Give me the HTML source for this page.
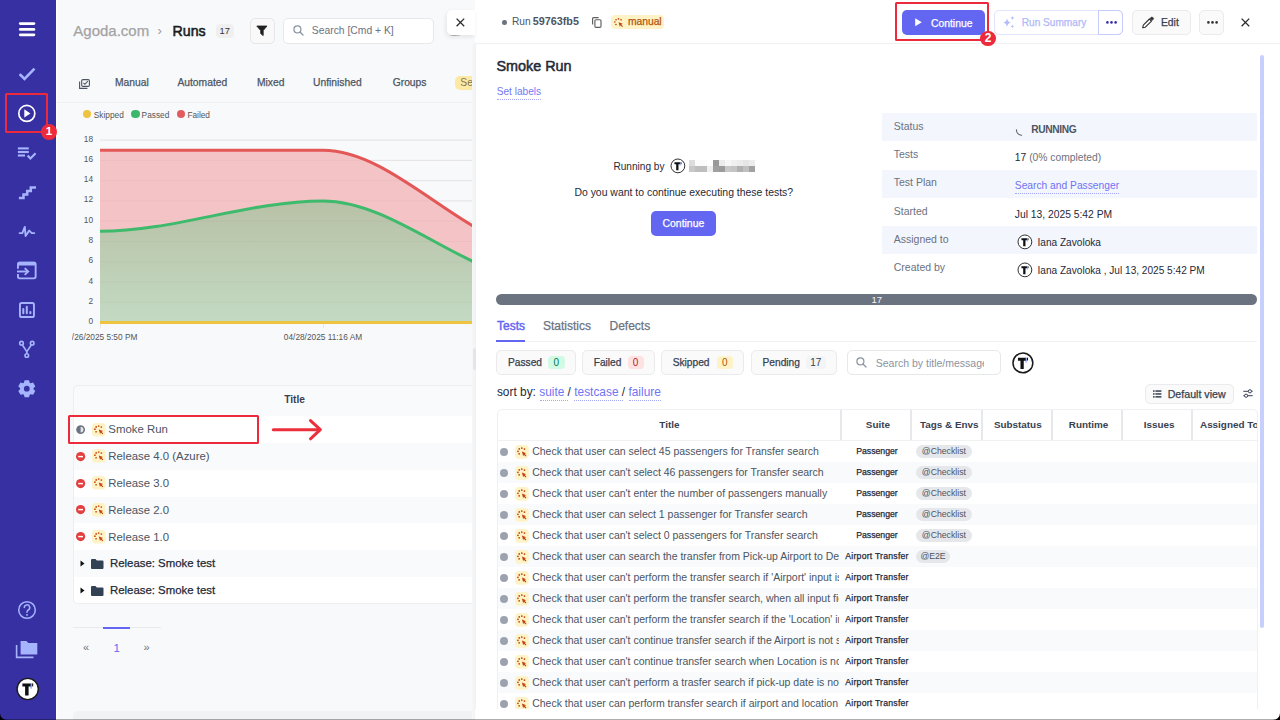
<!DOCTYPE html>
<html><head><meta charset="utf-8">
<style>
*{box-sizing:border-box;margin:0;padding:0}
html,body{width:1280px;height:720px;overflow:hidden}
body{position:relative;background:#f8f9fb;font-family:"Liberation Sans",Arial,sans-serif;color:#374151}
.a{position:absolute}
.t{position:absolute;white-space:nowrap;line-height:1}
svg{display:block}
#sb{position:absolute;left:0;top:0;width:56px;height:720px;background:#3730a3}
.ic{position:absolute;overflow:visible}
.m{-webkit-text-stroke:0.25px currentColor}
.sbd{-webkit-text-stroke:0.45px currentColor}
.mi{position:absolute;width:14px;height:14px;background:#fef3c7;border-radius:4px}
</style></head><body>
<!-- SIDEBAR -->
<div id="sb">
 <svg class="ic" style="left:0;top:0" width="56" height="720" viewBox="0 0 56 720">
  <g stroke="#fff" stroke-width="2.8" stroke-linecap="round">
   <line x1="20.3" y1="23.6" x2="33.9" y2="23.6"/><line x1="20.3" y1="29.4" x2="33.9" y2="29.4"/><line x1="20.3" y1="34.8" x2="33.9" y2="34.8"/>
  </g>
  <polyline points="20.5,75 24.5,79 33.6,69.5" fill="none" stroke="#a5b4fc" stroke-width="2.6" stroke-linecap="square"/>
  <circle cx="26.8" cy="113.4" r="8" fill="none" stroke="#fff" stroke-width="1.7"/>
  <path d="M24.3 109.3 L30.4 113.4 L24.3 117.5Z" fill="#fff"/>
  <g stroke="#a5b4fc" stroke-width="2.1" fill="none">
   <line x1="17.9" y1="148.4" x2="28.8" y2="148.4"/><line x1="17.9" y1="152" x2="28.8" y2="152"/><line x1="17.9" y1="155.5" x2="25" y2="155.5"/>
   <polyline points="27.6,155.6 30.4,158.5 35.6,153.3" stroke-width="2.2"/>
  </g>
  <path d="M18.9 197.9 H23.5 V194.5 H27.2 V191 H30.8 V187.4 H36" fill="none" stroke="#a5b4fc" stroke-width="2.5"/>
  <polyline points="19.6,233.1 22.3,233.1 24.8,226.9 25.6,236 29.2,230.6 31.8,233.1 34.3,233.1" fill="none" stroke="#a5b4fc" stroke-width="1.9" stroke-linejoin="round" stroke-linecap="round"/>
  <g fill="none" stroke="#a5b4fc" stroke-width="1.9">
   <path d="M17.95,268.7 V264.5 Q17.95,262.75 19.7,262.75 H33.9 Q35.65,262.75 35.65,264.5 V276.6 Q35.65,278.35 33.9,278.35 H19.7 Q17.95,278.35 17.95,276.6 V273.9"/>
   <line x1="17" y1="271.5" x2="28.2" y2="271.5"/>
   <polyline points="24.7,268.1 28.2,271.5 24.7,274.9"/>
  </g>
  <rect x="17.5" y="261.8" width="18.6" height="3.6" rx="1.5" fill="#a5b4fc"/>
  <g fill="none" stroke="#a5b4fc" stroke-width="1.9">
   <rect x="19.95" y="302.95" width="14" height="14.1" rx="1.6"/>
  </g>
  <g stroke="#a5b4fc" stroke-width="2" stroke-linecap="round">
   <line x1="23.3" y1="309.1" x2="23.3" y2="313.2"/><line x1="26.8" y1="306.7" x2="26.8" y2="313.2"/><line x1="30.4" y1="312" x2="30.4" y2="313.2"/>
  </g>
  <g fill="none" stroke="#a5b4fc" stroke-width="1.6">
   <circle cx="21.5" cy="343.2" r="1.8"/><circle cx="32.2" cy="343.2" r="1.8"/><circle cx="26.8" cy="355.5" r="1.8"/>
   <polyline points="22.4,345 26.8,351.6 31.3,345"/><line x1="26.8" y1="351.6" x2="26.8" y2="353.7"/>
  </g>
  <path fill="#a5b4fc" fill-rule="evenodd" d="M29.70,382.66 L29.00,380.18 L24.60,380.18 L23.90,382.66 A6.7,6.7 0 0 0 23.02,383.17 L20.52,382.53 L18.32,386.34 L20.12,388.19 A6.7,6.7 0 0 0 20.12,389.21 L18.32,391.06 L20.52,394.87 L23.02,394.23 A6.7,6.7 0 0 0 23.90,394.74 L24.60,397.22 L29.00,397.22 L29.70,394.74 A6.7,6.7 0 0 0 30.58,394.23 L33.08,394.87 L35.28,391.06 L33.48,389.21 A6.7,6.7 0 0 0 33.48,388.19 L35.28,386.34 L33.08,382.53 L30.58,383.17 A6.7,6.7 0 0 0 29.70,382.66 Z M29.70,388.70 A2.9,2.9 0 1 0 23.90,388.70 A2.9,2.9 0 1 0 29.70,388.70Z"/>
  <circle cx="27" cy="610" r="8.3" fill="none" stroke="#a5b4fc" stroke-width="1.5"/>
  <path d="M24.3 607.6 A2.7 2.7 0 1 1 28.2 610 C27.2 610.5 27 611 27 612.3" fill="none" stroke="#a5b4fc" stroke-width="1.5" stroke-linecap="round"/>
  <circle cx="27" cy="614.9" r="0.95" fill="#a5b4fc"/>
  <path d="M16.6 645 V657.4 H33.5" fill="none" stroke="#a5b4fc" stroke-width="1.6"/>
  <path d="M20.6 641 H26.5 L28.3 643 H37.3 V654.4 H20.6Z" fill="#a5b4fc"/>
  <circle cx="27.7" cy="689" r="10.6" fill="#fff" stroke="#1a1a1a" stroke-width="1.4"/>
  <path d="M22.4 683.4 H31.3 V686.6 H28.6 V695.6 H25.1 V686.6 H22.4Z" fill="#111"/>
  <rect x="30.6" y="683.4" width="1" height="5.2" fill="#5b8cff"/>
  <rect x="32.1" y="683.4" width="1.1" height="3" fill="#111"/>
 </svg>
 <div class="a" style="left:4.8px;top:92.8px;width:43.3px;height:39.8px;border:2.4px solid #ec2a3b;border-radius:1.5px"></div>
 
</div>

<!-- MAIN LEFT -->
<div id="main" class="a" style="left:55px;top:0;width:420px;height:720px">
</div>
<div class="t m" style="left:73.3px;top:23.1px;font-size:15px;color:#a3a3a3">Agoda.com</div>
<div class="t" style="left:157.5px;top:24.3px;font-size:13px;color:#9a9a9a">&#8250;</div>
<div class="t" style="left:172.6px;top:23.73px;font-size:14.2px;color:#1c1c1c;-webkit-text-stroke:0.55px #1c1c1c">Runs</div>
<div class="a" style="left:215.5px;top:24px;width:18.5px;height:14px;border-radius:4px;background:#f0f0f1;color:#333;font-size:9.3px;line-height:14px;text-align:center">17</div>
<div class="a" style="left:249.5px;top:18px;width:25px;height:26px;border:1px solid #e6e6e8;border-radius:5px;background:#f9f9f9"></div>
<svg class="ic" style="left:256px;top:25px" width="12" height="12" viewBox="0 0 12 12"><path d="M0.8 1 H11 L7.2 5.6 V10.6 L4.7 8.6 V5.6Z" fill="#1f1f1f" stroke="#1f1f1f" stroke-width="0.8" stroke-linejoin="round"/></svg>
<div class="a" style="left:283.3px;top:18px;width:150.3px;height:26px;border:1px solid #e7e8ea;border-radius:5px;background:#fff"></div>
<svg class="ic" style="left:293px;top:25px" width="11" height="11" viewBox="0 0 11 11"><circle cx="4.4" cy="4.4" r="3.5" fill="none" stroke="#8b93a1" stroke-width="1.2"/><line x1="7" y1="7" x2="10" y2="10" stroke="#8b93a1" stroke-width="1.3" stroke-linecap="round"/></svg>
<div class="t" style="left:311.8px;top:26.2px;font-size:10.35px;color:#6b7280">Search [Cmd + K]</div>
<!-- tabs -->
<svg class="ic" style="left:78.5px;top:78.5px" width="11" height="10" viewBox="0 0 11 10"><g fill="none" stroke="#4b5563" stroke-width="1.1"><rect x="2.7" y="0.6" width="7.7" height="6.8" rx="1.2"/><path d="M0.6 2.6 V9.4 H8.4"/><polyline points="4.4,3.9 5.9,5.3 8.8,2.2"/></g></svg>
<div class="t m" style="left:115px;top:77.7px;font-size:10.3px;color:#4b5563">Manual</div>
<div class="t m" style="left:177.4px;top:77.7px;font-size:10.3px;color:#4b5563">Automated</div>
<div class="t m" style="left:257px;top:77.7px;font-size:10.3px;color:#4b5563">Mixed</div>
<div class="t m" style="left:313px;top:77.7px;font-size:10.3px;color:#4b5563">Unfinished</div>
<div class="t m" style="left:392.7px;top:77.7px;font-size:10.3px;color:#4b5563">Groups</div>
<div class="a" style="left:455px;top:75.8px;width:17.7px;height:14.6px;border-radius:5px 0 0 5px;background:#fde9a6;overflow:hidden"><div class="t" style="left:5.3px;top:2.6px;font-size:10.3px;color:#857549">Se</div></div>
<div class="a" style="left:57.2px;top:102px;width:415px;height:1px;background:#eef0f3"></div>
<!-- legend -->
<div class="a" style="left:82.9px;top:109.6px;width:8.6px;height:8.6px;border-radius:50%;background:#eec33f"></div>
<div class="t" style="left:93.8px;top:111.3px;font-size:8.3px;color:#555">Skipped</div>
<div class="a" style="left:131px;top:109.6px;width:8.6px;height:8.6px;border-radius:50%;background:#3cb86e"></div>
<div class="t" style="left:141.6px;top:111.3px;font-size:8.3px;color:#555">Passed</div>
<div class="a" style="left:176.5px;top:109.6px;width:8.6px;height:8.6px;border-radius:50%;background:#e25b5e"></div>
<div class="t" style="left:187.4px;top:111.3px;font-size:8.3px;color:#555">Failed</div>

<!-- CHART -->
<svg class="ic" style="left:0;top:0" width="475" height="350" viewBox="0 0 475 350">
 <defs>
  <clipPath id="cc"><rect x="72" y="120" width="400.5" height="230"/></clipPath>
  <clipPath id="pc"><rect x="100" y="120" width="372.5" height="210"/></clipPath>
  <linearGradient id="gg" gradientUnits="userSpaceOnUse" x1="0" y1="200" x2="0" y2="323"><stop offset="0" stop-color="#b8c1a6"/><stop offset="1" stop-color="#c3dac3"/></linearGradient>
 </defs>
 <g clip-path="url(#cc)">
  <g stroke="#e9e9eb" stroke-width="1"><line x1="100" y1="302.3" x2="473" y2="302.3"/><line x1="100" y1="282.0" x2="473" y2="282.0"/><line x1="100" y1="261.8" x2="473" y2="261.8"/><line x1="100" y1="241.5" x2="473" y2="241.5"/><line x1="100" y1="221.2" x2="473" y2="221.2"/><line x1="100" y1="200.9" x2="473" y2="200.9"/><line x1="100" y1="180.6" x2="473" y2="180.6"/><line x1="100" y1="160.4" x2="473" y2="160.4"/><line x1="100" y1="140.1" x2="473" y2="140.1"/></g>
  <g clip-path="url(#pc)">
   <path d="M100,150.2 L323,150.2 C397.3,150.2 471.7,251.6 546,251.6 L546,322.6 L100,322.6Z" fill="#f4c3c5"/>
   <path d="M100,231.3 C174.3,231.3 248.7,200.9 323,200.9 C397.3,200.9 471.7,282 546,282 L546,322.6 L100,322.6Z" fill="url(#gg)"/>
   <g stroke="rgba(120,60,60,0.045)" stroke-width="1"><line x1="100" y1="302.3" x2="473" y2="302.3"/><line x1="100" y1="282.0" x2="473" y2="282.0"/><line x1="100" y1="261.8" x2="473" y2="261.8"/><line x1="100" y1="241.5" x2="473" y2="241.5"/><line x1="100" y1="221.2" x2="473" y2="221.2"/><line x1="100" y1="200.9" x2="473" y2="200.9"/><line x1="100" y1="180.6" x2="473" y2="180.6"/><line x1="100" y1="160.4" x2="473" y2="160.4"/><line x1="100" y1="140.1" x2="473" y2="140.1"/></g>
   <path d="M100,150.2 L323,150.2 C397.3,150.2 471.7,251.6 546,251.6" fill="none" stroke="#e35757" stroke-width="3"/>
   <path d="M100,231.3 C174.3,231.3 248.7,200.9 323,200.9 C397.3,200.9 471.7,282 546,282" fill="none" stroke="#3dba6c" stroke-width="3"/>
   <line x1="100" y1="322.6" x2="546" y2="322.6" stroke="#eec33f" stroke-width="3"/>
  </g>
  <g stroke="#e6e6e8"><line x1="100.5" y1="324" x2="100.5" y2="328"/><line x1="323.5" y1="324" x2="323.5" y2="328"/></g>
  <g font-family="Liberation Sans, Arial, sans-serif" font-size="8.3" fill="#555">
   <text x="93" y="324.1" text-anchor="end">0</text><text x="93" y="303.8" text-anchor="end">2</text><text x="93" y="283.5" text-anchor="end">4</text><text x="93" y="263.3" text-anchor="end">6</text><text x="93" y="243.0" text-anchor="end">8</text><text x="93" y="222.7" text-anchor="end">10</text><text x="93" y="202.4" text-anchor="end">12</text><text x="93" y="182.1" text-anchor="end">14</text><text x="93" y="161.9" text-anchor="end">16</text><text x="93" y="141.6" text-anchor="end">18</text>
   <text x="100" y="340.1" text-anchor="middle">04/26/2025 5:50 PM</text>
   <text x="323" y="340.1" text-anchor="middle">04/28/2025 11:16 AM</text>
  </g>
 </g>
</svg>
<!-- LEFT TABLE -->
<div class="a" style="left:56px;top:0;width:1.2px;height:720px;background:#fff"></div>
<div class="a" style="left:72.5px;top:384.5px;width:401px;height:219.5px;border:1px solid #eceef1;border-right:none;border-radius:5px 0 0 5px;background:#f9fafb;overflow:hidden">
<div class="a" style="left:0;top:30.50px;width:400px;height:26.85px;background:#fff"></div>
<div class="a" style="left:0;top:57.35px;width:400px;height:26.85px;background:#f9fafb"></div>
<div class="a" style="left:0;top:84.20px;width:400px;height:26.85px;background:#fff"></div>
<div class="a" style="left:0;top:111.05px;width:400px;height:26.85px;background:#f9fafb"></div>
<div class="a" style="left:0;top:137.90px;width:400px;height:26.85px;background:#fff"></div>
<div class="a" style="left:0;top:164.75px;width:400px;height:26.85px;background:#f9fafb"></div>
<div class="a" style="left:0;top:191.60px;width:400px;height:26.85px;background:#fff"></div>
</div>
<div class="t" style="left:284.2px;top:395.2px;font-size:10.2px;font-weight:700;color:#374151">Title</div>
<svg class="ic" style="left:76px;top:424.82px" width="9.2" height="9.2" viewBox="0 0 10 10"><circle cx="5" cy="5" r="4.8" fill="#6b7280"/><path d="M5 1.9 A3.1 3.1 0 0 1 5 8.1Z" fill="#e5e7eb"/></svg>
<svg class="ic" style="left:91.5px;top:422.53px" width="13.6" height="13.6" viewBox="0 0 14 14"><rect width="14" height="14" rx="4" fill="#fef3c7"/><g fill="#c2410c"><circle cx="4.3" cy="4" r="0.88"/><circle cx="6.9" cy="3.1" r="0.88"/><circle cx="9.6" cy="4.1" r="0.88"/><circle cx="3" cy="6.4" r="0.88"/><circle cx="4.2" cy="9" r="0.88"/><path d="M7 6.6 L11.4 8.3 L9.8 9 L11.6 10.8 L10.8 11.6 L9 9.8 L8.3 11.4Z"/></g></svg>
<div class="t" style="left:108.3px;top:424.12px;font-size:11.4px;color:#4b5563">Smoke Run</div>
<svg class="ic" style="left:76px;top:451.67px" width="9.2" height="9.2" viewBox="0 0 10 10"><circle cx="5" cy="5" r="5" fill="#e53e3e"/><rect x="2.4" y="4.2" width="5.2" height="1.6" fill="#fff"/></svg>
<svg class="ic" style="left:91.5px;top:449.38px" width="13.6" height="13.6" viewBox="0 0 14 14"><rect width="14" height="14" rx="4" fill="#fef3c7"/><g fill="#c2410c"><circle cx="4.3" cy="4" r="0.88"/><circle cx="6.9" cy="3.1" r="0.88"/><circle cx="9.6" cy="4.1" r="0.88"/><circle cx="3" cy="6.4" r="0.88"/><circle cx="4.2" cy="9" r="0.88"/><path d="M7 6.6 L11.4 8.3 L9.8 9 L11.6 10.8 L10.8 11.6 L9 9.8 L8.3 11.4Z"/></g></svg>
<div class="t" style="left:108.3px;top:450.97px;font-size:11.4px;color:#4b5563">Release 4.0 (Azure)</div>
<svg class="ic" style="left:76px;top:478.52px" width="9.2" height="9.2" viewBox="0 0 10 10"><circle cx="5" cy="5" r="5" fill="#e53e3e"/><rect x="2.4" y="4.2" width="5.2" height="1.6" fill="#fff"/></svg>
<svg class="ic" style="left:91.5px;top:476.23px" width="13.6" height="13.6" viewBox="0 0 14 14"><rect width="14" height="14" rx="4" fill="#fef3c7"/><g fill="#c2410c"><circle cx="4.3" cy="4" r="0.88"/><circle cx="6.9" cy="3.1" r="0.88"/><circle cx="9.6" cy="4.1" r="0.88"/><circle cx="3" cy="6.4" r="0.88"/><circle cx="4.2" cy="9" r="0.88"/><path d="M7 6.6 L11.4 8.3 L9.8 9 L11.6 10.8 L10.8 11.6 L9 9.8 L8.3 11.4Z"/></g></svg>
<div class="t" style="left:108.3px;top:477.82px;font-size:11.4px;color:#4b5563">Release 3.0</div>
<svg class="ic" style="left:76px;top:505.38px" width="9.2" height="9.2" viewBox="0 0 10 10"><circle cx="5" cy="5" r="5" fill="#e53e3e"/><rect x="2.4" y="4.2" width="5.2" height="1.6" fill="#fff"/></svg>
<svg class="ic" style="left:91.5px;top:503.08px" width="13.6" height="13.6" viewBox="0 0 14 14"><rect width="14" height="14" rx="4" fill="#fef3c7"/><g fill="#c2410c"><circle cx="4.3" cy="4" r="0.88"/><circle cx="6.9" cy="3.1" r="0.88"/><circle cx="9.6" cy="4.1" r="0.88"/><circle cx="3" cy="6.4" r="0.88"/><circle cx="4.2" cy="9" r="0.88"/><path d="M7 6.6 L11.4 8.3 L9.8 9 L11.6 10.8 L10.8 11.6 L9 9.8 L8.3 11.4Z"/></g></svg>
<div class="t" style="left:108.3px;top:504.68px;font-size:11.4px;color:#4b5563">Release 2.0</div>
<svg class="ic" style="left:76px;top:532.23px" width="9.2" height="9.2" viewBox="0 0 10 10"><circle cx="5" cy="5" r="5" fill="#e53e3e"/><rect x="2.4" y="4.2" width="5.2" height="1.6" fill="#fff"/></svg>
<svg class="ic" style="left:91.5px;top:529.93px" width="13.6" height="13.6" viewBox="0 0 14 14"><rect width="14" height="14" rx="4" fill="#fef3c7"/><g fill="#c2410c"><circle cx="4.3" cy="4" r="0.88"/><circle cx="6.9" cy="3.1" r="0.88"/><circle cx="9.6" cy="4.1" r="0.88"/><circle cx="3" cy="6.4" r="0.88"/><circle cx="4.2" cy="9" r="0.88"/><path d="M7 6.6 L11.4 8.3 L9.8 9 L11.6 10.8 L10.8 11.6 L9 9.8 L8.3 11.4Z"/></g></svg>
<div class="t" style="left:108.3px;top:531.53px;font-size:11.4px;color:#4b5563">Release 1.0</div>
<svg class="ic" style="left:79.5px;top:560.17px" width="5" height="7" viewBox="0 0 5 7"><path d="M0.5 0.5 L4.5 3.5 L0.5 6.5Z" fill="#111"/></svg>
<svg class="ic" style="left:90.5px;top:558.67px" width="12.5" height="10" viewBox="0 0 12.5 10"><path d="M0 1 Q0 0 1 0 H4.5 L5.8 1.4 H11.5 Q12.5 1.4 12.5 2.4 V9 Q12.5 10 11.5 10 H1 Q0 10 0 9Z" fill="#334155"/></svg>
<div class="t m" style="left:110px;top:558.38px;font-size:11.4px;color:#1f2937">Release: Smoke test</div>
<svg class="ic" style="left:79.5px;top:587.03px" width="5" height="7" viewBox="0 0 5 7"><path d="M0.5 0.5 L4.5 3.5 L0.5 6.5Z" fill="#111"/></svg>
<svg class="ic" style="left:90.5px;top:585.53px" width="12.5" height="10" viewBox="0 0 12.5 10"><path d="M0 1 Q0 0 1 0 H4.5 L5.8 1.4 H11.5 Q12.5 1.4 12.5 2.4 V9 Q12.5 10 11.5 10 H1 Q0 10 0 9Z" fill="#334155"/></svg>
<div class="t m" style="left:110px;top:585.23px;font-size:11.4px;color:#1f2937">Release: Smoke test</div>
<div class="a" style="left:68.3px;top:414.5px;width:191px;height:29.8px;border:2.4px solid #ec2a3b;border-radius:1.5px"></div>
<svg class="ic" style="left:270px;top:418px" width="56" height="24" viewBox="270 418 56 24"><g fill="none" stroke="#ec2f3c" stroke-width="3" stroke-linecap="round" stroke-linejoin="round"><line x1="273.3" y1="429.7" x2="319.5" y2="429.7"/><polyline points="310.5,420.6 320.3,429.7 310.5,438.8"/></g></svg>
<div class="a" style="left:73px;top:627.2px;width:88px;height:1px;background:#e9eaee"></div>
<div class="a" style="left:103.2px;top:627px;width:27px;height:2px;background:#6366f1"></div>
<div class="t" style="left:83px;top:642.3px;font-size:11px;color:#6b7280">&#171;</div>
<div class="t" style="left:113.6px;top:641.6px;font-size:11.6px;color:#6366f1">1</div>
<div class="t" style="left:143.6px;top:642.3px;font-size:11px;color:#6b7280">&#187;</div>
<div class="a" style="left:72.5px;top:711px;width:401px;height:10px;border-radius:5px 0 0 0;background:#f1f2f4"></div>
<!-- DRAWER -->

<div class="a" style="left:474.8px;top:0;width:805.2px;height:720px;background:#fff"></div>
<div class="a" style="left:472.4px;top:44px;width:3.6px;height:676px;background:linear-gradient(90deg,#f6f7f9,#f3f4f6 60%,#eff0f2)"></div>
<div class="a" style="left:447.3px;top:10px;width:27.5px;height:25px;background:#fff;border-radius:5px 0 0 5px;box-shadow:-1px 2px 5px rgba(0,0,0,0.09)"></div>
<svg class="ic" style="left:455.5px;top:17.6px" width="9" height="9" viewBox="0 0 9 9"><path d="M0.6 0.6 L8.2 8.2 M8.2 0.6 L0.6 8.2" stroke="#2b2b2b" stroke-width="1.3"/></svg>
<div class="a" style="left:475px;top:43px;width:805px;height:1px;background:#f0f1f3"></div>
<div class="a" style="left:449.5px;top:35px;width:10px;height:1.3px;background:linear-gradient(90deg,#bbb,#777 40%,#bbb);opacity:0.6"></div>
<div class="a" style="left:502.3px;top:20.2px;width:4.6px;height:4.6px;border-radius:50%;background:#6b7280"></div>
<div class="t" style="left:511.9px;top:16.67px;font-size:10.2px;color:#4b5563;">Run</div>
<div class="t" style="left:532.7px;top:16.16px;font-size:10.8px;color:#4b5563;font-weight:700">59763fb5</div>
<svg class="ic" style="left:591.5px;top:16.8px" width="10.5" height="11" viewBox="0 0 10.5 11"><g fill="none" stroke="#5f5f5f" stroke-width="1.15"><rect x="2.9" y="2.7" width="6.1" height="7.7" rx="1.1"/><path d="M0.6 7.4 V1.6 Q0.6 0.6 1.6 0.6 H6.6"/></g></svg>
<div class="a" style="left:611px;top:15.3px;width:53.2px;height:13.8px;border-radius:4px;background:#fef3c7"></div>
<svg class="ic" style="left:612.2px;top:15.6px" width="13.2" height="13.2" viewBox="0 0 14 14"><g fill="#c2410c"><circle cx="4.3" cy="4" r="0.88"/><circle cx="6.9" cy="3.1" r="0.88"/><circle cx="9.6" cy="4.1" r="0.88"/><circle cx="3" cy="6.4" r="0.88"/><circle cx="4.2" cy="9" r="0.88"/><path d="M7 6.6 L11.4 8.3 L9.8 9 L11.6 10.8 L10.8 11.6 L9 9.8 L8.3 11.4Z"/></g></svg>
<div class="t m" style="left:627.9px;top:17.18px;font-size:10.3px;color:#b45309;">manual</div>
<div class="a" style="left:895.3px;top:2.3px;width:94.2px;height:38.6px;border:2.4px solid #ec2a3b;border-radius:1.5px"></div>
<div class="a" style="left:902.2px;top:9.75px;width:82.5px;height:25.5px;border-radius:5px;background:#6366f1"></div>
<svg class="ic" style="left:915.2px;top:18.2px" width="7" height="8.4" viewBox="0 0 7 8.4"><path d="M0.2 0.2 L6.8 4.2 L0.2 8.2Z" fill="#fff"/></svg>
<div class="t m" style="left:930.9px;top:18.80px;font-size:10.4px;color:#fff;">Continue</div>
<div class="a" style="left:980.3px;top:30.6px;width:15.8px;height:15.8px;border-radius:50%;background:#ec2a3b;color:#fff;font-weight:700;font-size:12px;line-height:14.6px;text-align:center">2</div>
<div class="a" style="left:993.7px;top:9.75px;width:129.7px;height:25.5px;border-radius:5px;border:1px solid #e0e4fc;background:#fff"></div>
<div class="a" style="left:1098px;top:9.75px;width:25.4px;height:25.5px;border:1px solid #c5cbfb;border-radius:0 5px 5px 0"></div>
<svg class="ic" style="left:1002px;top:15.5px" width="13" height="12.5" viewBox="0 0 13 12.5"><g fill="#b4bdfa"><path d="M5 2.2 Q5.6 6 9 6.6 Q5.6 7.2 5 11 Q4.4 7.2 1 6.6 Q4.4 6 5 2.2Z"/><path d="M10.4 0 Q10.7 1.6 12.2 1.9 Q10.7 2.2 10.4 3.8 Q10.1 2.2 8.6 1.9 Q10.1 1.6 10.4 0Z"/><path d="M10.4 8.8 Q10.7 10.1 12 10.4 Q10.7 10.7 10.4 12 Q10.1 10.7 8.8 10.4 Q10.1 10.1 10.4 8.8Z"/></g></svg>
<div class="t m" style="left:1021.8px;top:18.25px;font-size:10.1px;color:#b0b8f8;">Run Summary</div>
<svg class="ic" style="left:1105.5px;top:20.8px" width="11" height="3" viewBox="0 0 11 3"><g fill="#3730a3"><circle cx="1.4" cy="1.4" r="1.3"/><circle cx="5.5" cy="1.4" r="1.3"/><circle cx="9.6" cy="1.4" r="1.3"/></g></svg>
<div class="a" style="left:1132.2px;top:10px;width:58.4px;height:25px;border-radius:5px;border:1px solid #ebebed;background:#fafafa"></div>
<svg class="ic" style="left:1142.2px;top:16.5px" width="11.6" height="11.6" viewBox="0 0 11.6 11.6"><path d="M0.70 10.80 L3.35 10.20 L9.50 4.05 L7.45 2.00 L1.30 8.15Z" fill="none" stroke="#333" stroke-width="1.15" stroke-linejoin="round"/><path d="M9.93 3.62 L11.57 1.98 L11.57 1.27 L10.23 -0.07 L9.52 -0.07 L7.88 1.57Z" fill="#333" stroke="#333" stroke-width="0.6" stroke-linejoin="round"/></svg>
<div class="t m" style="left:1161px;top:18.08px;font-size:10.3px;color:#374151;">Edit</div>
<div class="a" style="left:1199px;top:10px;width:24.8px;height:25px;border-radius:5px;border:1px solid #ebebed;background:#fafafa"></div>
<svg class="ic" style="left:1206.5px;top:20.8px" width="11" height="3" viewBox="0 0 11 3"><g fill="#333"><circle cx="1.4" cy="1.4" r="1.3"/><circle cx="5.5" cy="1.4" r="1.3"/><circle cx="9.6" cy="1.4" r="1.3"/></g></svg>
<svg class="ic" style="left:1240.7px;top:17.8px" width="9" height="9" viewBox="0 0 9 9"><path d="M0.6 0.6 L8.2 8.2 M8.2 0.6 L0.6 8.2" stroke="#2b2b2b" stroke-width="1.3"/></svg>
<div class="t" style="left:496.4px;top:58.71px;font-size:14.4px;color:#1f2937;-webkit-text-stroke:0.5px #1f2937">Smoke Run</div>
<div class="t" style="left:496.75px;top:87.45px;font-size:10.1px;color:#7477f4;">Set labels</div>
<div class="a" style="left:496.75px;top:98.7px;width:44.5px;height:0;border-top:1px dotted #a5a8f7"></div>
<div class="a" style="left:1260px;top:55px;width:4px;height:573px;border-radius:2px;background:#c7d0fd"></div>
<div class="t" style="left:613.4px;top:161.55px;font-size:10.1px;color:#1f2937;">Running by</div>
<svg class="ic" style="left:669.50px;top:158.40px" width="15.80" height="15.80" viewBox="-7.90 -7.90 15.80 15.80"><circle r="6.9" fill="#fff" stroke="#1a1a1a" stroke-width="0.9"/><g transform="scale(0.651)"><path d="M-5.3 -5.6 H3.6 V-2.4 H0.9 V6.6 H-2.6 V-2.4 H-5.3Z" fill="#111"/><rect x="2.9" y="-5.6" width="1" height="5.2" fill="#5b8cff"/><rect x="4.4" y="-5.6" width="1.1" height="3" fill="#111"/></g></svg>
<div class="a" style="left:689px;top:160px;width:6px;height:6px;background:#dcdcdc"></div>
<div class="a" style="left:695px;top:160px;width:6px;height:6px;background:#fbfbfb"></div>
<div class="a" style="left:701px;top:160px;width:6px;height:6px;background:#fbfbfb"></div>
<div class="a" style="left:707px;top:160px;width:6px;height:6px;background:#fff"></div>
<div class="a" style="left:713px;top:160px;width:6px;height:6px;background:#9a9a9a"></div>
<div class="a" style="left:719px;top:160px;width:6px;height:6px;background:#ececec"></div>
<div class="a" style="left:725px;top:160px;width:6px;height:6px;background:#f7f7f7"></div>
<div class="a" style="left:731px;top:160px;width:6px;height:6px;background:#f0f0f0"></div>
<div class="a" style="left:737px;top:160px;width:6px;height:6px;background:#ececec"></div>
<div class="a" style="left:743px;top:160px;width:6px;height:6px;background:#e6e6e6"></div>
<div class="a" style="left:749px;top:160px;width:6px;height:6px;background:#ececec"></div>
<div class="a" style="left:689px;top:166px;width:6px;height:6px;background:#c8c8c8"></div>
<div class="a" style="left:695px;top:166px;width:6px;height:6px;background:#bebebe"></div>
<div class="a" style="left:701px;top:166px;width:6px;height:6px;background:#bebebe"></div>
<div class="a" style="left:707px;top:166px;width:6px;height:6px;background:#efefef"></div>
<div class="a" style="left:713px;top:166px;width:6px;height:6px;background:#a0a0a0"></div>
<div class="a" style="left:719px;top:166px;width:6px;height:6px;background:#9c9c9c"></div>
<div class="a" style="left:725px;top:166px;width:6px;height:6px;background:#c8c8c8"></div>
<div class="a" style="left:731px;top:166px;width:6px;height:6px;background:#c4c4c4"></div>
<div class="a" style="left:737px;top:166px;width:6px;height:6px;background:#b0b0b0"></div>
<div class="a" style="left:743px;top:166px;width:6px;height:6px;background:#c0c0c0"></div>
<div class="a" style="left:749px;top:166px;width:6px;height:6px;background:#a2a2a2"></div>
<div class="t" style="left:574.4px;top:187.96px;font-size:10.44px;color:#1f2937;">Do you want to continue executing these tests?</div>
<div class="a" style="left:650.9px;top:211.3px;width:65.4px;height:25px;border-radius:5px;background:#6366f1"></div>
<div class="t m" style="left:662.5px;top:218.75px;font-size:10.45px;color:#fff;">Continue</div>
<div class="a" style="left:472.7px;top:348px;width:3.1px;height:22px;border-radius:1.5px;background:#e4e5e9"></div>
<!-- DETAILS -->
<div class="a" style="left:882px;top:113.10px;width:375.4px;height:28.22px;background:#f4f6fd"></div>
<div class="t" style="left:893.75px;top:120.91px;font-size:10.5px;color:#6b7280;">Status</div>
<div class="t" style="left:893.75px;top:149.13px;font-size:10.5px;color:#6b7280;">Tests</div>
<div class="a" style="left:882px;top:169.54px;width:375.4px;height:28.22px;background:#f4f6fd"></div>
<div class="t" style="left:893.75px;top:177.35px;font-size:10.5px;color:#6b7280;">Test Plan</div>
<div class="t" style="left:893.75px;top:205.57px;font-size:10.5px;color:#6b7280;">Started</div>
<div class="a" style="left:882px;top:225.98px;width:375.4px;height:28.22px;background:#f4f6fd"></div>
<div class="t" style="left:893.75px;top:233.79px;font-size:10.5px;color:#6b7280;">Assigned to</div>
<div class="t" style="left:893.75px;top:262.01px;font-size:10.5px;color:#6b7280;">Created by</div>
<svg class="ic" style="left:1014.5px;top:127.5px" width="9" height="9" viewBox="0 0 9 9"><path d="M1.4 1.8 A5.5 5.5 0 0 0 6.6 7.2" fill="none" stroke="#5b6472" stroke-width="1.15" stroke-linecap="round"/></svg>
<div class="t" style="left:1031.2px;top:124.93px;font-size:10.2px;color:#4b5563;font-weight:700;letter-spacing:-0.35px">RUNNING</div>
<div class="t" style="left:1014.8px;top:153.10px;font-size:10.3px;color:#6b7280;"><span style="color:#1f2937">17</span> (0% completed)</div>
<div class="t" style="left:1014.8px;top:181.35px;font-size:10.26px;color:#6f73f3;">Search and Passenger</div>
<div class="a" style="left:1014.8px;top:193.44px;width:104.4px;height:0;border-top:1px dotted #a5a8f7"></div>
<div class="t" style="left:1014.8px;top:209.54px;font-size:10.3px;color:#1f2937;">Jul 13, 2025 5:42 PM</div>
<svg class="ic" style="left:1016.90px;top:234.10px" width="15.80" height="15.80" viewBox="-7.90 -7.90 15.80 15.80"><circle r="6.9" fill="#fff" stroke="#1a1a1a" stroke-width="0.9"/><g transform="scale(0.651)"><path d="M-5.3 -5.6 H3.6 V-2.4 H0.9 V6.6 H-2.6 V-2.4 H-5.3Z" fill="#111"/><rect x="2.9" y="-5.6" width="1" height="5.2" fill="#5b8cff"/><rect x="4.4" y="-5.6" width="1.1" height="3" fill="#111"/></g></svg>
<div class="t" style="left:1037.5px;top:237.93px;font-size:10.1px;color:#1f2937;">Iana Zavoloka</div>
<svg class="ic" style="left:1016.90px;top:262.30px" width="15.80" height="15.80" viewBox="-7.90 -7.90 15.80 15.80"><circle r="6.9" fill="#fff" stroke="#1a1a1a" stroke-width="0.9"/><g transform="scale(0.651)"><path d="M-5.3 -5.6 H3.6 V-2.4 H0.9 V6.6 H-2.6 V-2.4 H-5.3Z" fill="#111"/><rect x="2.9" y="-5.6" width="1" height="5.2" fill="#5b8cff"/><rect x="4.4" y="-5.6" width="1.1" height="3" fill="#111"/></g></svg>
<div class="t" style="left:1037.5px;top:266.15px;font-size:10.1px;color:#1f2937;">Iana Zavoloka , Jul 13, 2025 5:42 PM</div>
<div class="a" style="left:496.3px;top:293.8px;width:761px;height:11px;border-radius:5.5px;background:#6b7280"></div>
<div class="a" style="left:496.3px;top:293.8px;width:761px;height:11px;line-height:11px;font-size:9.6px;color:#f3f4f6;text-align:center">17</div>
<div class="t sbd" style="left:497px;top:320.34px;font-size:12px;color:#6366f1;">Tests</div>
<div class="t m" style="left:542.9px;top:320.34px;font-size:12px;color:#6b7280;">Statistics</div>
<div class="t m" style="left:609.5px;top:320.34px;font-size:12px;color:#6b7280;">Defects</div>
<div class="a" style="left:496px;top:340.5px;width:761px;height:1px;background:#f0f1f3"></div>
<div class="a" style="left:496px;top:339.5px;width:29px;height:2px;background:#6366f1"></div>
<div class="a" style="left:496.2px;top:349.8px;width:79.4px;height:25.2px;border-radius:5px;border:1px solid #ebebed;background:#fafafa"></div>
<div class="t m" style="left:508px;top:357.57px;font-size:10.2px;color:#374151;">Passed</div>
<div class="a" style="left:548.2px;top:356px;width:16.4px;height:13.2px;border-radius:4px;background:#d1fae5;color:#047857;font-size:10px;line-height:13.4px;text-align:center">0</div>
<div class="a" style="left:582.2px;top:349.8px;width:73.2px;height:25.2px;border-radius:5px;border:1px solid #ebebed;background:#fafafa"></div>
<div class="t m" style="left:593.7px;top:357.57px;font-size:10.2px;color:#374151;">Failed</div>
<div class="a" style="left:627.5px;top:356px;width:16.2px;height:13.2px;border-radius:4px;background:#fee2e2;color:#b91c1c;font-size:10px;line-height:13.4px;text-align:center">0</div>
<div class="a" style="left:661.2px;top:349.8px;width:83.2px;height:25.2px;border-radius:5px;border:1px solid #ebebed;background:#fafafa"></div>
<div class="t m" style="left:672.7px;top:357.57px;font-size:10.2px;color:#374151;">Skipped</div>
<div class="a" style="left:716.9px;top:356px;width:16.0px;height:13.2px;border-radius:4px;background:#fef3c7;color:#b45309;font-size:10px;line-height:13.4px;text-align:center">0</div>
<div class="a" style="left:750.7px;top:349.8px;width:86.7px;height:25.2px;border-radius:5px;border:1px solid #ebebed;background:#fafafa"></div>
<div class="t m" style="left:762.5px;top:357.57px;font-size:10.2px;color:#374151;">Pending</div>
<div class="a" style="left:806px;top:356px;width:19.6px;height:13.2px;border-radius:4px;background:#f3f4f6;color:#374151;font-size:10px;line-height:13.4px;text-align:center">17</div>
<div class="a" style="left:846.6px;top:349.5px;width:154px;height:25.8px;border-radius:5px;border:1px solid #e7e8ea;background:#fff;overflow:hidden"><div class="t" style="left:28.2px;top:7.5px;font-size:10.5px;color:#8b93a1;width:108px;overflow:hidden">Search by title/message</div></div>
<svg class="ic" style="left:856px;top:357.3px" width="11" height="11" viewBox="0 0 11 11"><circle cx="4.4" cy="4.4" r="3.5" fill="none" stroke="#8b93a1" stroke-width="1.2"/><line x1="7" y1="7" x2="10" y2="10" stroke="#8b93a1" stroke-width="1.3" stroke-linecap="round"/></svg>
<svg class="ic" style="left:1011.90px;top:351.60px" width="21.80" height="21.80" viewBox="-10.90 -10.90 21.80 21.80"><circle r="9.9" fill="#fff" stroke="#1a1a1a" stroke-width="1.5"/><g transform="scale(0.934)"><path d="M-5.3 -5.6 H3.6 V-2.4 H0.9 V6.6 H-2.6 V-2.4 H-5.3Z" fill="#111"/><rect x="2.9" y="-5.6" width="1" height="5.2" fill="#5b8cff"/><rect x="4.4" y="-5.6" width="1.1" height="3" fill="#111"/></g></svg>
<div class="t" style="left:496.9px;top:387.03px;font-size:11.9px;color:#1f2937;">sort by: <span style="color:#7174f4">suite</span> / <span style="color:#7174f4">testcase</span> / <span style="color:#7174f4">failure</span></div>
<div class="a" id="u1" style="left:539.6px;top:399.6px;width:28.6px;height:0;border-top:1px dotted #a5a8f7"></div>
<div class="a" id="u2" style="left:574.4px;top:399.6px;width:48.8px;height:0;border-top:1px dotted #a5a8f7"></div>
<div class="a" id="u3" style="left:629.4px;top:399.6px;width:32px;height:0;border-top:1px dotted #a5a8f7"></div>
<div class="a" style="left:1144.8px;top:384.3px;width:89.7px;height:19.4px;border-radius:5px;border:1px solid #ebebed;background:#fafafa"></div>
<svg class="ic" style="left:1152.8px;top:389.8px" width="8.5" height="8" viewBox="0 0 8.5 8"><g fill="#374151"><rect x="0" y="0.3" width="1.6" height="1.5"/><rect x="2.4" y="0.3" width="6" height="1.5"/><rect x="0" y="3.2" width="1.6" height="1.5"/><rect x="2.4" y="3.2" width="6" height="1.5"/><rect x="0" y="6.1" width="1.6" height="1.5"/><rect x="2.4" y="6.1" width="6" height="1.5"/></g></svg>
<div class="t m" style="left:1167.7px;top:388.58px;font-size:10.65px;color:#374151;">Default view</div>
<svg class="ic" style="left:1242.5px;top:389px" width="10" height="9" viewBox="0 0 10 9"><g fill="none" stroke="#374151" stroke-width="1"><line x1="0.3" y1="2.3" x2="9.7" y2="2.3"/><line x1="0.3" y1="6.7" x2="9.7" y2="6.7"/><circle cx="6.9" cy="2.3" r="1.6" fill="#fff"/><circle cx="3.1" cy="6.7" r="1.6" fill="#fff"/></g></svg>
<!-- TESTS TABLE -->
<div class="a" style="left:496.8px;top:409.3px;width:761px;height:320px;border:1px solid #eff0f2;border-radius:5px;background:#fff;overflow:hidden">
<div class="a" style="left:0;top:51.7px;width:760px;height:21px;background:#f9fafb"></div>
<div class="a" style="left:0;top:93.7px;width:760px;height:21px;background:#f9fafb"></div>
<div class="a" style="left:0;top:135.7px;width:760px;height:21px;background:#f9fafb"></div>
<div class="a" style="left:0;top:177.7px;width:760px;height:21px;background:#f9fafb"></div>
<div class="a" style="left:0;top:219.7px;width:760px;height:21px;background:#f9fafb"></div>
<div class="a" style="left:0;top:261.7px;width:760px;height:21px;background:#f9fafb"></div>
<div class="a" style="left:0;top:30.0px;width:760px;height:1px;background:#f0f1f3"></div>
</div>
<div class="a" style="left:840.2px;top:410px;width:2px;height:30.3px;background:#e6e8ec"></div>
<div class="a" style="left:910.4px;top:410px;width:2px;height:30.3px;background:#e6e8ec"></div>
<div class="a" style="left:980.6px;top:410px;width:2px;height:30.3px;background:#e6e8ec"></div>
<div class="a" style="left:1050.8px;top:410px;width:2px;height:30.3px;background:#e6e8ec"></div>
<div class="a" style="left:1121.2px;top:410px;width:2px;height:30.3px;background:#e6e8ec"></div>
<div class="a" style="left:1191.4px;top:410px;width:2px;height:30.3px;background:#e6e8ec"></div>
<div class="t" style="left:659.3px;top:420.42px;font-size:9.9px;color:#374151;font-weight:700">Title</div>
<div class="t" style="left:865.8px;top:420.42px;font-size:9.9px;color:#374151;font-weight:700">Suite</div>
<div class="t" style="left:920px;top:420.42px;font-size:9.9px;color:#374151;font-weight:700">Tags &amp; Envs</div>
<div class="t" style="left:993.9px;top:420.42px;font-size:9.9px;color:#374151;font-weight:700">Substatus</div>
<div class="t" style="left:1068.8px;top:420.42px;font-size:9.9px;color:#374151;font-weight:700">Runtime</div>
<div class="t" style="left:1143.7px;top:420.42px;font-size:9.9px;color:#374151;font-weight:700">Issues</div>
<div class="t" style="left:1200px;top:420.42px;font-size:9.9px;color:#374151;font-weight:700;width:56.5px;overflow:hidden">Assigned To</div>
<div class="a" style="left:500.4px;top:447.5px;width:8px;height:8px;border-radius:50%;background:#9ca3af"></div>
<svg class="ic" style="left:514.8px;top:444.6px" width="13.8" height="13.8" viewBox="0 0 14 14"><rect width="14" height="14" rx="4" fill="#fef3c7"/><g fill="#c2410c"><circle cx="4.3" cy="4" r="0.88"/><circle cx="6.9" cy="3.1" r="0.88"/><circle cx="9.6" cy="4.1" r="0.88"/><circle cx="3" cy="6.4" r="0.88"/><circle cx="4.2" cy="9" r="0.88"/><path d="M7 6.6 L11.4 8.3 L9.8 9 L11.6 10.8 L10.8 11.6 L9 9.8 L8.3 11.4Z"/></g></svg>
<div class="t" style="left:532.2px;top:446.31px;font-size:10.5px;color:#4b5563;width:307.3px;overflow:hidden">Check that user can select 45 passengers for Transfer search</div>
<div class="t m" style="left:842px;width:70px;text-align:center;top:447.24px;font-size:8.7px;color:#1f2937">Passenger</div>
<div class="a" style="left:916px;top:444.7px;width:55.8px;height:13.6px;border-radius:7px;background:#e5e7eb;color:#4b5563;font-size:8.7px;line-height:13.6px;text-align:center">@Checklist</div>
<div class="a" style="left:500.4px;top:468.5px;width:8px;height:8px;border-radius:50%;background:#9ca3af"></div>
<svg class="ic" style="left:514.8px;top:465.6px" width="13.8" height="13.8" viewBox="0 0 14 14"><rect width="14" height="14" rx="4" fill="#fef3c7"/><g fill="#c2410c"><circle cx="4.3" cy="4" r="0.88"/><circle cx="6.9" cy="3.1" r="0.88"/><circle cx="9.6" cy="4.1" r="0.88"/><circle cx="3" cy="6.4" r="0.88"/><circle cx="4.2" cy="9" r="0.88"/><path d="M7 6.6 L11.4 8.3 L9.8 9 L11.6 10.8 L10.8 11.6 L9 9.8 L8.3 11.4Z"/></g></svg>
<div class="t" style="left:532.2px;top:467.31px;font-size:10.5px;color:#4b5563;width:307.3px;overflow:hidden">Check that user can&#39;t select 46 passengers for Transfer search</div>
<div class="t m" style="left:842px;width:70px;text-align:center;top:468.24px;font-size:8.7px;color:#1f2937">Passenger</div>
<div class="a" style="left:916px;top:465.7px;width:55.8px;height:13.6px;border-radius:7px;background:#e5e7eb;color:#4b5563;font-size:8.7px;line-height:13.6px;text-align:center">@Checklist</div>
<div class="a" style="left:500.4px;top:489.5px;width:8px;height:8px;border-radius:50%;background:#9ca3af"></div>
<svg class="ic" style="left:514.8px;top:486.6px" width="13.8" height="13.8" viewBox="0 0 14 14"><rect width="14" height="14" rx="4" fill="#fef3c7"/><g fill="#c2410c"><circle cx="4.3" cy="4" r="0.88"/><circle cx="6.9" cy="3.1" r="0.88"/><circle cx="9.6" cy="4.1" r="0.88"/><circle cx="3" cy="6.4" r="0.88"/><circle cx="4.2" cy="9" r="0.88"/><path d="M7 6.6 L11.4 8.3 L9.8 9 L11.6 10.8 L10.8 11.6 L9 9.8 L8.3 11.4Z"/></g></svg>
<div class="t" style="left:532.2px;top:488.31px;font-size:10.5px;color:#4b5563;width:307.3px;overflow:hidden">Check that user can&#39;t enter the number of passengers manually</div>
<div class="t m" style="left:842px;width:70px;text-align:center;top:489.24px;font-size:8.7px;color:#1f2937">Passenger</div>
<div class="a" style="left:916px;top:486.7px;width:55.8px;height:13.6px;border-radius:7px;background:#e5e7eb;color:#4b5563;font-size:8.7px;line-height:13.6px;text-align:center">@Checklist</div>
<div class="a" style="left:500.4px;top:510.5px;width:8px;height:8px;border-radius:50%;background:#9ca3af"></div>
<svg class="ic" style="left:514.8px;top:507.6px" width="13.8" height="13.8" viewBox="0 0 14 14"><rect width="14" height="14" rx="4" fill="#fef3c7"/><g fill="#c2410c"><circle cx="4.3" cy="4" r="0.88"/><circle cx="6.9" cy="3.1" r="0.88"/><circle cx="9.6" cy="4.1" r="0.88"/><circle cx="3" cy="6.4" r="0.88"/><circle cx="4.2" cy="9" r="0.88"/><path d="M7 6.6 L11.4 8.3 L9.8 9 L11.6 10.8 L10.8 11.6 L9 9.8 L8.3 11.4Z"/></g></svg>
<div class="t" style="left:532.2px;top:509.31px;font-size:10.5px;color:#4b5563;width:307.3px;overflow:hidden">Check that user can select 1 passenger for Transfer search</div>
<div class="t m" style="left:842px;width:70px;text-align:center;top:510.24px;font-size:8.7px;color:#1f2937">Passenger</div>
<div class="a" style="left:916px;top:507.7px;width:55.8px;height:13.6px;border-radius:7px;background:#e5e7eb;color:#4b5563;font-size:8.7px;line-height:13.6px;text-align:center">@Checklist</div>
<div class="a" style="left:500.4px;top:531.5px;width:8px;height:8px;border-radius:50%;background:#9ca3af"></div>
<svg class="ic" style="left:514.8px;top:528.6px" width="13.8" height="13.8" viewBox="0 0 14 14"><rect width="14" height="14" rx="4" fill="#fef3c7"/><g fill="#c2410c"><circle cx="4.3" cy="4" r="0.88"/><circle cx="6.9" cy="3.1" r="0.88"/><circle cx="9.6" cy="4.1" r="0.88"/><circle cx="3" cy="6.4" r="0.88"/><circle cx="4.2" cy="9" r="0.88"/><path d="M7 6.6 L11.4 8.3 L9.8 9 L11.6 10.8 L10.8 11.6 L9 9.8 L8.3 11.4Z"/></g></svg>
<div class="t" style="left:532.2px;top:530.31px;font-size:10.5px;color:#4b5563;width:307.3px;overflow:hidden">Check that user can&#39;t select 0 passengers for Transfer search</div>
<div class="t m" style="left:842px;width:70px;text-align:center;top:531.24px;font-size:8.7px;color:#1f2937">Passenger</div>
<div class="a" style="left:916px;top:528.7px;width:55.8px;height:13.6px;border-radius:7px;background:#e5e7eb;color:#4b5563;font-size:8.7px;line-height:13.6px;text-align:center">@Checklist</div>
<div class="a" style="left:500.4px;top:552.5px;width:8px;height:8px;border-radius:50%;background:#9ca3af"></div>
<svg class="ic" style="left:514.8px;top:549.6px" width="13.8" height="13.8" viewBox="0 0 14 14"><rect width="14" height="14" rx="4" fill="#fef3c7"/><g fill="#c2410c"><circle cx="4.3" cy="4" r="0.88"/><circle cx="6.9" cy="3.1" r="0.88"/><circle cx="9.6" cy="4.1" r="0.88"/><circle cx="3" cy="6.4" r="0.88"/><circle cx="4.2" cy="9" r="0.88"/><path d="M7 6.6 L11.4 8.3 L9.8 9 L11.6 10.8 L10.8 11.6 L9 9.8 L8.3 11.4Z"/></g></svg>
<div class="t" style="left:532.2px;top:551.31px;font-size:10.5px;color:#4b5563;width:307.3px;overflow:hidden">Check that user can search the transfer from Pick-up Airport to Destination</div>
<div class="t m" style="left:842px;width:70px;text-align:center;top:552.24px;font-size:8.7px;color:#1f2937;letter-spacing:0.22px">Airport Transfer</div>
<div class="a" style="left:916px;top:549.7px;width:34px;height:13.6px;border-radius:7px;background:#e5e7eb;color:#4b5563;font-size:8.7px;line-height:13.6px;text-align:center">@E2E</div>
<div class="a" style="left:500.4px;top:573.5px;width:8px;height:8px;border-radius:50%;background:#9ca3af"></div>
<svg class="ic" style="left:514.8px;top:570.6px" width="13.8" height="13.8" viewBox="0 0 14 14"><rect width="14" height="14" rx="4" fill="#fef3c7"/><g fill="#c2410c"><circle cx="4.3" cy="4" r="0.88"/><circle cx="6.9" cy="3.1" r="0.88"/><circle cx="9.6" cy="4.1" r="0.88"/><circle cx="3" cy="6.4" r="0.88"/><circle cx="4.2" cy="9" r="0.88"/><path d="M7 6.6 L11.4 8.3 L9.8 9 L11.6 10.8 L10.8 11.6 L9 9.8 L8.3 11.4Z"/></g></svg>
<div class="t" style="left:532.2px;top:572.31px;font-size:10.5px;color:#4b5563;width:307.3px;overflow:hidden">Check that user can&#39;t perform the transfer search if &#39;Airport&#39; input is empty</div>
<div class="t m" style="left:842px;width:70px;text-align:center;top:573.24px;font-size:8.7px;color:#1f2937;letter-spacing:0.22px">Airport Transfer</div>
<div class="a" style="left:500.4px;top:594.5px;width:8px;height:8px;border-radius:50%;background:#9ca3af"></div>
<svg class="ic" style="left:514.8px;top:591.6px" width="13.8" height="13.8" viewBox="0 0 14 14"><rect width="14" height="14" rx="4" fill="#fef3c7"/><g fill="#c2410c"><circle cx="4.3" cy="4" r="0.88"/><circle cx="6.9" cy="3.1" r="0.88"/><circle cx="9.6" cy="4.1" r="0.88"/><circle cx="3" cy="6.4" r="0.88"/><circle cx="4.2" cy="9" r="0.88"/><path d="M7 6.6 L11.4 8.3 L9.8 9 L11.6 10.8 L10.8 11.6 L9 9.8 L8.3 11.4Z"/></g></svg>
<div class="t" style="left:532.2px;top:593.31px;font-size:10.5px;color:#4b5563;width:307.3px;overflow:hidden">Check that user can&#39;t perform the transfer search, when all input fields are empty</div>
<div class="t m" style="left:842px;width:70px;text-align:center;top:594.24px;font-size:8.7px;color:#1f2937;letter-spacing:0.22px">Airport Transfer</div>
<div class="a" style="left:500.4px;top:615.5px;width:8px;height:8px;border-radius:50%;background:#9ca3af"></div>
<svg class="ic" style="left:514.8px;top:612.6px" width="13.8" height="13.8" viewBox="0 0 14 14"><rect width="14" height="14" rx="4" fill="#fef3c7"/><g fill="#c2410c"><circle cx="4.3" cy="4" r="0.88"/><circle cx="6.9" cy="3.1" r="0.88"/><circle cx="9.6" cy="4.1" r="0.88"/><circle cx="3" cy="6.4" r="0.88"/><circle cx="4.2" cy="9" r="0.88"/><path d="M7 6.6 L11.4 8.3 L9.8 9 L11.6 10.8 L10.8 11.6 L9 9.8 L8.3 11.4Z"/></g></svg>
<div class="t" style="left:532.2px;top:614.31px;font-size:10.5px;color:#4b5563;width:307.3px;overflow:hidden">Check that user can&#39;t perform the transfer search if the &#39;Location&#39; input is empty</div>
<div class="t m" style="left:842px;width:70px;text-align:center;top:615.24px;font-size:8.7px;color:#1f2937;letter-spacing:0.22px">Airport Transfer</div>
<div class="a" style="left:500.4px;top:636.5px;width:8px;height:8px;border-radius:50%;background:#9ca3af"></div>
<svg class="ic" style="left:514.8px;top:633.6px" width="13.8" height="13.8" viewBox="0 0 14 14"><rect width="14" height="14" rx="4" fill="#fef3c7"/><g fill="#c2410c"><circle cx="4.3" cy="4" r="0.88"/><circle cx="6.9" cy="3.1" r="0.88"/><circle cx="9.6" cy="4.1" r="0.88"/><circle cx="3" cy="6.4" r="0.88"/><circle cx="4.2" cy="9" r="0.88"/><path d="M7 6.6 L11.4 8.3 L9.8 9 L11.6 10.8 L10.8 11.6 L9 9.8 L8.3 11.4Z"/></g></svg>
<div class="t" style="left:532.2px;top:635.31px;font-size:10.5px;color:#4b5563;width:307.3px;overflow:hidden">Check that user can&#39;t continue transfer search if the Airport is not selected</div>
<div class="t m" style="left:842px;width:70px;text-align:center;top:636.24px;font-size:8.7px;color:#1f2937;letter-spacing:0.22px">Airport Transfer</div>
<div class="a" style="left:500.4px;top:657.5px;width:8px;height:8px;border-radius:50%;background:#9ca3af"></div>
<svg class="ic" style="left:514.8px;top:654.6px" width="13.8" height="13.8" viewBox="0 0 14 14"><rect width="14" height="14" rx="4" fill="#fef3c7"/><g fill="#c2410c"><circle cx="4.3" cy="4" r="0.88"/><circle cx="6.9" cy="3.1" r="0.88"/><circle cx="9.6" cy="4.1" r="0.88"/><circle cx="3" cy="6.4" r="0.88"/><circle cx="4.2" cy="9" r="0.88"/><path d="M7 6.6 L11.4 8.3 L9.8 9 L11.6 10.8 L10.8 11.6 L9 9.8 L8.3 11.4Z"/></g></svg>
<div class="t" style="left:532.2px;top:656.31px;font-size:10.5px;color:#4b5563;width:307.3px;overflow:hidden">Check that user can&#39;t continue transfer search when Location is not selected</div>
<div class="t m" style="left:842px;width:70px;text-align:center;top:657.24px;font-size:8.7px;color:#1f2937;letter-spacing:0.22px">Airport Transfer</div>
<div class="a" style="left:500.4px;top:678.5px;width:8px;height:8px;border-radius:50%;background:#9ca3af"></div>
<svg class="ic" style="left:514.8px;top:675.6px" width="13.8" height="13.8" viewBox="0 0 14 14"><rect width="14" height="14" rx="4" fill="#fef3c7"/><g fill="#c2410c"><circle cx="4.3" cy="4" r="0.88"/><circle cx="6.9" cy="3.1" r="0.88"/><circle cx="9.6" cy="4.1" r="0.88"/><circle cx="3" cy="6.4" r="0.88"/><circle cx="4.2" cy="9" r="0.88"/><path d="M7 6.6 L11.4 8.3 L9.8 9 L11.6 10.8 L10.8 11.6 L9 9.8 L8.3 11.4Z"/></g></svg>
<div class="t" style="left:532.2px;top:677.31px;font-size:10.5px;color:#4b5563;width:307.3px;overflow:hidden">Check that user can&#39;t perform a trasfer search if pick-up date is not selected</div>
<div class="t m" style="left:842px;width:70px;text-align:center;top:678.24px;font-size:8.7px;color:#1f2937;letter-spacing:0.22px">Airport Transfer</div>
<div class="a" style="left:500.4px;top:699.5px;width:8px;height:8px;border-radius:50%;background:#9ca3af"></div>
<svg class="ic" style="left:514.8px;top:696.6px" width="13.8" height="13.8" viewBox="0 0 14 14"><rect width="14" height="14" rx="4" fill="#fef3c7"/><g fill="#c2410c"><circle cx="4.3" cy="4" r="0.88"/><circle cx="6.9" cy="3.1" r="0.88"/><circle cx="9.6" cy="4.1" r="0.88"/><circle cx="3" cy="6.4" r="0.88"/><circle cx="4.2" cy="9" r="0.88"/><path d="M7 6.6 L11.4 8.3 L9.8 9 L11.6 10.8 L10.8 11.6 L9 9.8 L8.3 11.4Z"/></g></svg>
<div class="t" style="left:532.2px;top:698.31px;font-size:10.5px;color:#4b5563;width:307.3px;overflow:hidden">Check that user can perform transfer search if airport and location are selected</div>
<div class="t m" style="left:842px;width:70px;text-align:center;top:699.24px;font-size:8.7px;color:#1f2937;letter-spacing:0.22px">Airport Transfer</div>
<!-- BOTTOM -->
<div class="a" style="left:475px;top:708.5px;width:805px;height:12px;background:#fff"></div>
<div class="a" style="left:0;top:719px;width:1280px;height:1px;background:rgba(0,0,0,0.32)"></div>
<svg class="ic" style="left:0;top:713px" width="7" height="7" viewBox="0 0 7 7"><path d="M0 0 A7 7 0 0 0 7 7 H0Z" fill="#000"/></svg>
<svg class="ic" style="left:1273px;top:713px" width="7" height="7" viewBox="0 0 7 7"><path d="M7 0 A7 7 0 0 1 0 7 H7Z" fill="#000"/></svg>
<div class="a" style="left:41px;top:124px;width:16px;height:16px;border-radius:50%;background:#ec2a3b;color:#fff;font-weight:700;font-size:11.5px;line-height:15.6px;text-align:center">1</div>
</body></html>
